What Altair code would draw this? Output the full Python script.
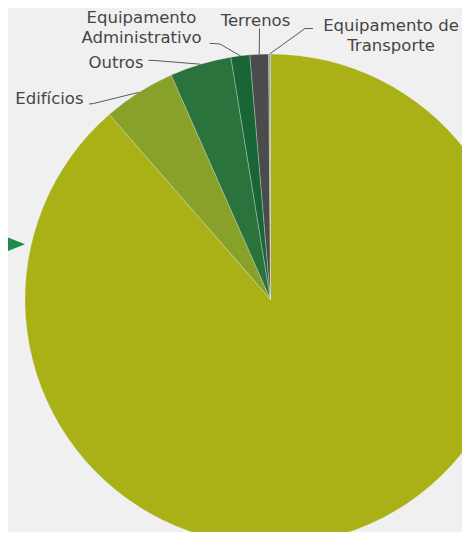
import math
import altair as alt
import pandas as pd

# ---- data ----
categories = ["Equipamento Básico", "Edifícios", "Outros", "Equipamento Administrativo",
              "Terrenos", "Equipamento de Transporte"]
values = [88.6, 4.78, 4.05, 1.24, 1.22, 0.12]
colors = ["#a9b117", "#87a129", "#2b733c", "#186535", "#4a4b4b", "#a0a0a0"]
label_lines = {
    "Edifícios": ["Edifícios"],
    "Outros": ["Outros"],
    "Equipamento Administrativo": ["Equipamento", "Administrativo"],
    "Terrenos": ["Terrenos"],
    "Equipamento de Transporte": ["Equipamento de", "Transporte"],
}

# ---- layout (chart pixel coords) ----
W, H = 454, 524
CX, CY, R = 262.5, 291.5, 245.5
layout = {
    "Edifícios": dict(tx=75.5, ty=95.5, align="right", start=(81, 96), elbow=(85.5, 95.5)),
    "Outros": dict(tx=135.5, ty=60.3, align="right", start=(140.3, 52.3), elbow=(148, 52.6)),
    "Equipamento Administrativo": dict(tx=133.5, ty=14.5, align="center", start=(201.5, 35.3), elbow=(212, 36)),
    "Terrenos": dict(tx=247.5, ty=18.2, align="center", start=(251.5, 20.5), elbow=(251.5, 20.5)),
    "Equipamento de Transporte": dict(tx=383, ty=22.5, align="center", start=(305, 20.5), elbow=(297, 20.5)),
}

df = pd.DataFrame({"cat": categories, "val": values, "ord": list(range(len(categories)))})

total = sum(values)
rows = []
cum = 0.0
for c, v in zip(categories, values):
    mid = (cum + v / 2) / total * 2 * math.pi
    cum += v
    if c not in layout:
        continue
    L = layout[c]
    ex, ey = CX + R * math.sin(mid), CY - R * math.cos(mid)
    pts = [L["start"], L["elbow"], (ex, ey)]
    for i, (px, py) in enumerate(pts):
        rows.append({"cat": c, "i": i, "px": px, "py": py})
lines_df = pd.DataFrame(rows)

text_rows = []
for c, L in layout.items():
    text_rows.append({"cat": c, "txt": label_lines[c], "tx": L["tx"], "ty": L["ty"], "align": L["align"]})
text_df = pd.DataFrame(text_rows)

pie = alt.Chart(df).mark_arc(outerRadius=R, stroke="#f0f0f0", strokeWidth=0.3).encode(
    theta=alt.Theta("val:Q", stack=True),
    order=alt.Order("ord:Q"),
    color=alt.Color("cat:N", scale=alt.Scale(domain=categories, range=colors), legend=None),
    x=alt.value(CX),
    y=alt.value(CY),
)

leaders = alt.Chart(lines_df).mark_line(color="#5a5a5a", strokeWidth=1).encode(
    x=alt.X("px:Q", scale=None),
    y=alt.Y("py:Q", scale=None),
    detail="cat:N",
    order="i:Q",
)

font = "DejaVu Sans"
txt_right = alt.Chart(text_df[text_df["align"] == "right"]).mark_text(
    align="right", baseline="alphabetic", font=font, fontSize=16.5, color="#454545", lineHeight=20
).encode(x=alt.X("tx:Q", scale=None), y=alt.Y("ty:Q", scale=None), text="txt")

txt_center = alt.Chart(text_df[text_df["align"] == "center"]).mark_text(
    align="center", baseline="alphabetic", font=font, fontSize=16.5, color="#454545", lineHeight=20
).encode(x=alt.X("tx:Q", scale=None), y=alt.Y("ty:Q", scale=None), text="txt")

tri = alt.Chart(pd.DataFrame({"a": [0]})).mark_point(
    shape="M-1,-0.8L1,0L-1,0.8Z", filled=True, opacity=1, color="#1b8c4b", size=625, strokeWidth=0
).encode(x=alt.value(4.5), y=alt.value(236.3))

chart = alt.layer(pie, leaders, txt_right, txt_center, tri).properties(
    width=W, height=H, padding=0, autosize="none", background="#f0f0f0"
).configure_view(stroke=None)

chart.save("out.html", embed_options={"renderer": "svg", "actions": False})
